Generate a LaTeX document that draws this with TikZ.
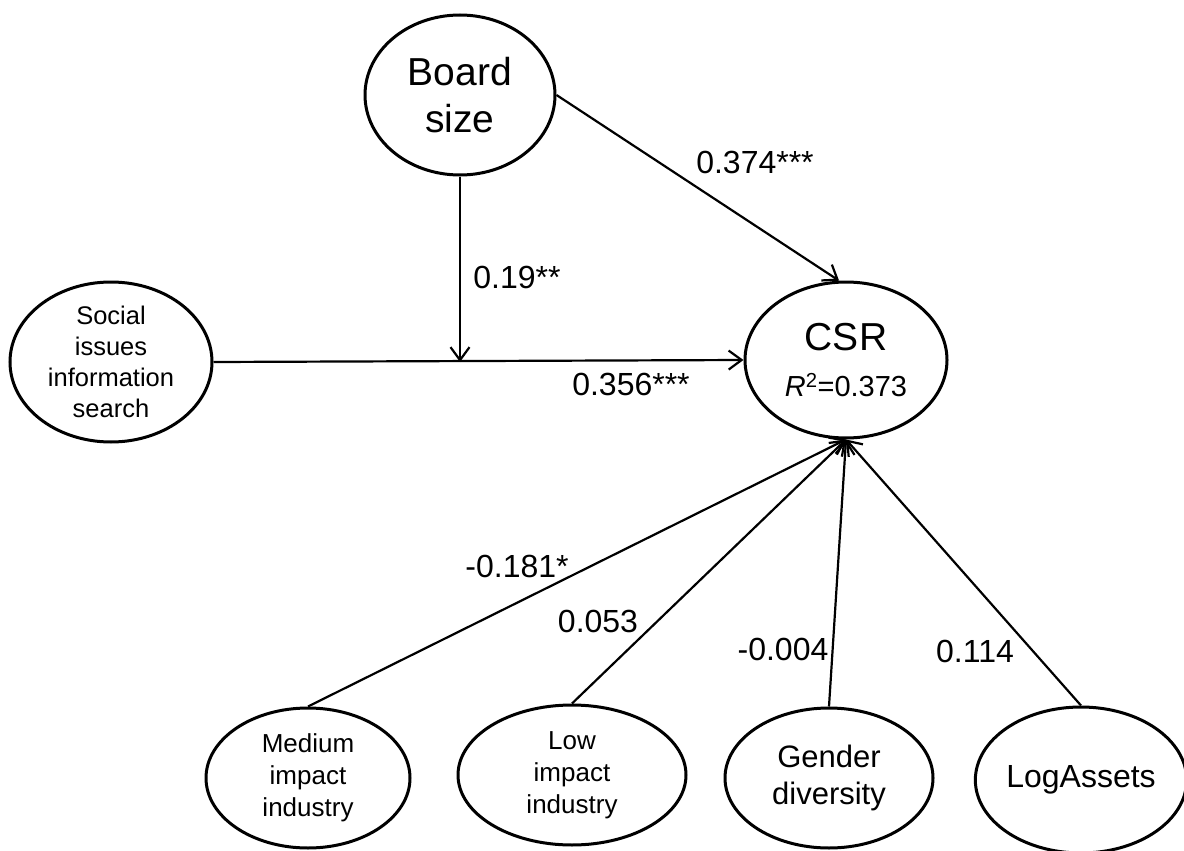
\documentclass[tikz,border=0pt]{standalone}
\usepackage{fontspec}
\setmainfont{Liberation Sans}
\usetikzlibrary{shapes.geometric,arrows.meta}
\tikzset{
  var/.style={ellipse, draw=black, line width=3pt, inner sep=0pt, align=center, fill=white},
  path/.style={line width=2.2pt, -{Straight Barb[length=13pt,width=19pt,line width=2.2pt]}},
  coef/.style={font=\fontsize{32}{36}\selectfont, inner sep=0pt, anchor=base}
}
\begin{document}
\begin{tikzpicture}[x=1pt,y=-1pt]
\useasboundingbox (0,0) rectangle (1184,851);
\node[var, minimum width=190pt, minimum height=160pt, font=\fontsize{39}{47}\selectfont] (board) at (460,95)
  {Board\\size};
\node[var, minimum width=202pt, minimum height=156pt, font=\fontsize{39}{46}\selectfont] (csr) at (846,360)
  {CSR\\{\fontsize{29}{34}\selectfont \textit{R}\textsuperscript{2}=0.373}};
\node[var, minimum width=202pt, minimum height=160pt, font=\fontsize{25.5}{31}\selectfont] (soc) at (111,362)
  {Social\\issues\\information\\search};
\node[var, minimum width=204pt, minimum height=140pt, font=\fontsize{26}{32}\selectfont] (med) at (308,778)
  {Medium\\impact\\industry};
\node[var, minimum width=228pt, minimum height=140pt, font=\fontsize{26}{32}\selectfont] (low) at (572,775)
  {Low\\impact\\industry};
\node[var, minimum width=208pt, minimum height=140pt, font=\fontsize{31}{37}\selectfont] (gen) at (829,778)
  {Gender\\diversity};
\node[var, minimum width=202pt, minimum height=146pt, font=\fontsize{32}{37}\selectfont] (log) at (1081,780)
  {LogAssets};
\coordinate (junc) at (board.south |- soc.east);
\draw[path] (soc.east) -- (csr.west);
\draw[path] (board.south) -- (junc);
\draw[path] (board.east) -- (csr.95);
\draw[path] (med.north) -- (csr.south);
\draw[path] (low.north) -- (csr.south);
\draw[path] (gen.north) -- (csr.south);
\draw[path] (log.north) -- (csr.south);
\node[coef] (l1) at (755,173) {0.374***};
\node[coef] (l2) at (517,288) {0.19**};
\node[coef] (l3) at (631,395) {0.356***};
\node[coef] (l4) at (517,577) {-0.181*};
\node[coef] (l5) at (598,632) {0.053};
\node[coef] (l6) at (783,660) {-0.004};
\node[coef] (l7) at (975,662) {0.114};
\end{tikzpicture}
\end{document}
